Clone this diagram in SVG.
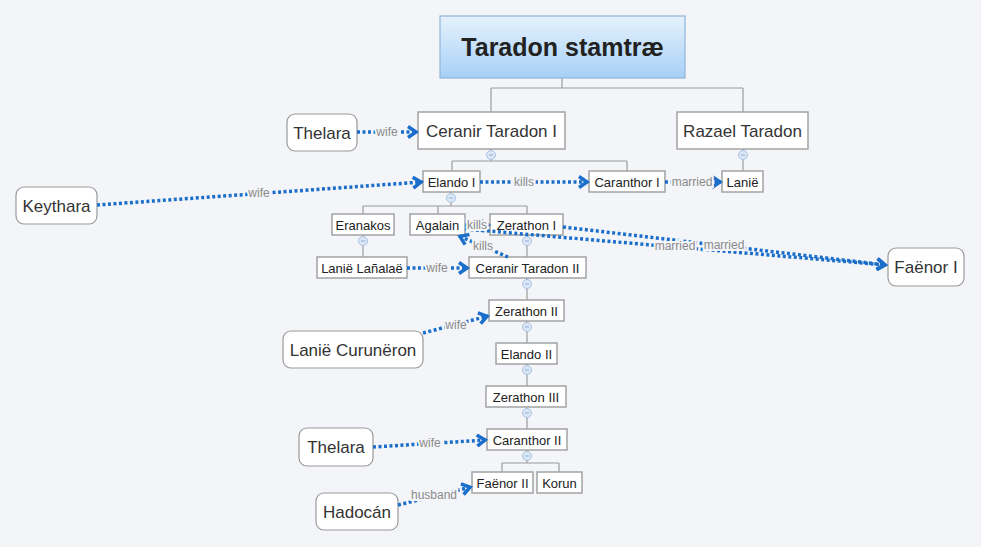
<svg xmlns="http://www.w3.org/2000/svg" width="981" height="547" viewBox="0 0 981 547">
<style>
.bg{fill:#f3f5f9}
.box{fill:#ffffff;stroke:#a3a3a3;stroke-width:1.5}
.flt{fill:#ffffff;stroke:#9a9a9a;stroke-width:1.2}
.t{font-family:"Liberation Sans",Arial,sans-serif;fill:#222;text-anchor:middle}
.s{font-size:13px}
.b{font-size:17px;fill:#333}
.tree{fill:none;stroke:#9c9c9c;stroke-width:1.2}
.col{fill:#dbe7f5;stroke:#a9c2e3;stroke-width:1}
.mn{stroke:#8fb0da;stroke-width:1}
.rel{fill:none;stroke:#1b6fcb;stroke-width:3.5;stroke-dasharray:3 2.5;marker-end:url(#arr)}
.lbl{font-family:"Liberation Sans",Arial,sans-serif;font-size:12px;fill:#8a8a8a;text-anchor:middle;stroke:#f3f5f9;stroke-width:4;paint-order:stroke}
</style>
<defs>
<linearGradient id="rg" x1="0" y1="0" x2="0" y2="1">
<stop offset="0" stop-color="#e6f2fd"/>
<stop offset="1" stop-color="#a6d0f6"/>
</linearGradient>
<marker id="arr" markerUnits="userSpaceOnUse" viewBox="0 0 14 14" refX="11.5" refY="7" markerWidth="14" markerHeight="14" orient="auto">
<path d="M2.5,1.5 L10.5,7 L2.5,12.5" fill="none" stroke="#1b6fcb" stroke-width="3.5"/>
</marker>
</defs>
<rect class="bg" x="0" y="0" width="981" height="547"/>

<g id="tree-connectors">
<path class="tree" d="M562,78V88M491,88H743M491,88V112M743,88V112"/>
<path class="tree" d="M491,149V161M452,161H627M452,161V171M627,161V171"/>
<path class="tree" d="M743,149V171"/>
<path class="tree" d="M451,192V206M363,206H527M363,206V214M438,206V214M527,206V214"/>
<path class="tree" d="M363,235V257"/>
<path class="tree" d="M527,235V257M527,278V300M527,321V343M527,364V386M527,407V429"/>
<path class="tree" d="M527,450V463M502,463H559M502,463V472M559,463V472"/>
<g id="collapse">
<circle class="col" cx="491" cy="155" r="4.5"/><path class="mn" d="M489,155H493"/>
<circle class="col" cx="743" cy="155" r="4.5"/><path class="mn" d="M741,155H745"/>
<circle class="col" cx="451" cy="198" r="4.5"/><path class="mn" d="M449,198H453"/>
<circle class="col" cx="363" cy="241" r="4.5"/><path class="mn" d="M361,241H365"/>
<circle class="col" cx="527" cy="241" r="4.5"/><path class="mn" d="M525,241H529"/>
<circle class="col" cx="527" cy="284" r="4.5"/><path class="mn" d="M525,284H529"/>
<circle class="col" cx="527" cy="327" r="4.5"/><path class="mn" d="M525,327H529"/>
<circle class="col" cx="527" cy="370" r="4.5"/><path class="mn" d="M525,370H529"/>
<circle class="col" cx="527" cy="413" r="4.5"/><path class="mn" d="M525,413H529"/>
<circle class="col" cx="527" cy="456" r="4.5"/><path class="mn" d="M525,456H529"/>
</g>
</g>

<g id="root"><rect x="440" y="16" width="245" height="62" fill="url(#rg)" stroke="#8fb5da" stroke-width="1.2"/><text class="t" x="562.5" y="56" font-size="25" font-weight="bold" fill="#3a4550">Taradon stamtræ</text></g>
<g id="ceranir1"><rect class="box" x="418" y="112" width="147" height="37"/><text class="t b" x="491.5" y="137">Ceranir Taradon I</text></g>
<g id="razael"><rect class="box" x="677" y="112" width="131" height="37"/><text class="t b" x="742.5" y="137">Razael Taradon</text></g>
<g id="thelara1"><rect class="flt" x="287" y="114" width="70" height="37" rx="8"/><text class="t b" x="322" y="139">Thelara</text></g>
<g id="keythara"><rect class="flt" x="16" y="187" width="81" height="37" rx="8"/><text class="t b" x="56.5" y="212">Keythara</text></g>
<g id="elando1"><rect class="box" x="423" y="171" width="57" height="21"/><text class="t s" x="451.5" y="186.5">Elando I</text></g>
<g id="caranthor1"><rect class="box" x="589" y="171" width="76" height="21"/><text class="t s" x="627" y="186.5">Caranthor I</text></g>
<g id="lanie"><rect class="box" x="722" y="171" width="41" height="21"/><text class="t s" x="742.5" y="186.5">Lanië</text></g>
<g id="eranakos"><rect class="box" x="332" y="214" width="62" height="21"/><text class="t s" x="363" y="229.5">Eranakos</text></g>
<g id="agalain"><rect class="box" x="410" y="214" width="55" height="21"/><text class="t s" x="437.5" y="229.5">Agalain</text></g>
<g id="zerathon1"><rect class="box" x="490" y="214" width="73" height="21"/><text class="t s" x="526.5" y="229.5">Zerathon I</text></g>
<g id="lanie-lanalae"><rect class="box" x="317" y="257" width="90" height="21"/><text class="t s" x="362" y="272.5">Lanië Lañalaë</text></g>
<g id="ceranir2"><rect class="box" x="469" y="257" width="117" height="21"/><text class="t s" x="527.5" y="272.5">Ceranir Taradon II</text></g>
<g id="zerathon2"><rect class="box" x="489" y="300" width="75" height="21"/><text class="t s" x="526.5" y="315.5">Zerathon II</text></g>
<g id="elando2"><rect class="box" x="496" y="343" width="61" height="21"/><text class="t s" x="526.5" y="358.5">Elando II</text></g>
<g id="zerathon3"><rect class="box" x="486" y="386" width="80" height="21"/><text class="t s" x="526" y="401.5">Zerathon III</text></g>
<g id="caranthor2"><rect class="box" x="487" y="429" width="80" height="21"/><text class="t s" x="527" y="444.5">Caranthor II</text></g>
<g id="faenor2"><rect class="box" x="472" y="472" width="61" height="21"/><text class="t s" x="502.5" y="487.5">Faënor II</text></g>
<g id="korun"><rect class="box" x="537" y="472" width="45" height="21"/><text class="t s" x="559.5" y="487.5">Korun</text></g>
<g id="lanie-curuneron"><rect class="flt" x="283" y="331" width="140" height="37" rx="8"/><text class="t b" x="353" y="356">Lanië Curunëron</text></g>
<g id="thelara2"><rect class="flt" x="299" y="428" width="74" height="38" rx="8"/><text class="t b" x="336" y="453">Thelara</text></g>
<g id="hadocan"><rect class="flt" x="316" y="493" width="82" height="37" rx="8"/><text class="t b" x="357" y="518">Hadocán</text></g>
<g id="faenor1"><rect class="flt" x="888" y="248" width="76" height="38" rx="8"/><text class="t b" x="926" y="273">Faënor I</text></g>

<g id="relationships">
<path class="rel" d="M357,132L417,132"/>
<path class="rel" d="M97,205L422,182"/>
<path class="rel" d="M480,182L588,182"/>
<path class="rel" d="M665,182L721,182"/>
<path class="rel" d="M465,225L489,225"/>
<path class="rel" d="M508,257L459,236"/>
<path class="rel" d="M563,227L886,265"/>
<path class="rel" d="M465,229L886,265"/>
<path class="rel" d="M407,268L468,268"/>
<path class="rel" d="M423,333L488,316"/>
<path class="rel" d="M373,447L486,440"/>
<path class="rel" d="M398,505L471,487"/>
<text class="lbl" x="387" y="136">wife</text>
<text class="lbl" x="259" y="197">wife</text>
<text class="lbl" x="524" y="186">kills</text>
<text class="lbl" x="692" y="186">married</text>
<text class="lbl" x="477" y="229">kills</text>
<text class="lbl" x="483" y="250">kills</text>
<text class="lbl" x="675" y="250">married</text>
<text class="lbl" x="724" y="249">married</text>
<text class="lbl" x="437" y="272">wife</text>
<text class="lbl" x="456" y="329">wife</text>
<text class="lbl" x="430" y="447">wife</text>
<text class="lbl" x="434" y="499">husband</text>
</g>
</svg>
